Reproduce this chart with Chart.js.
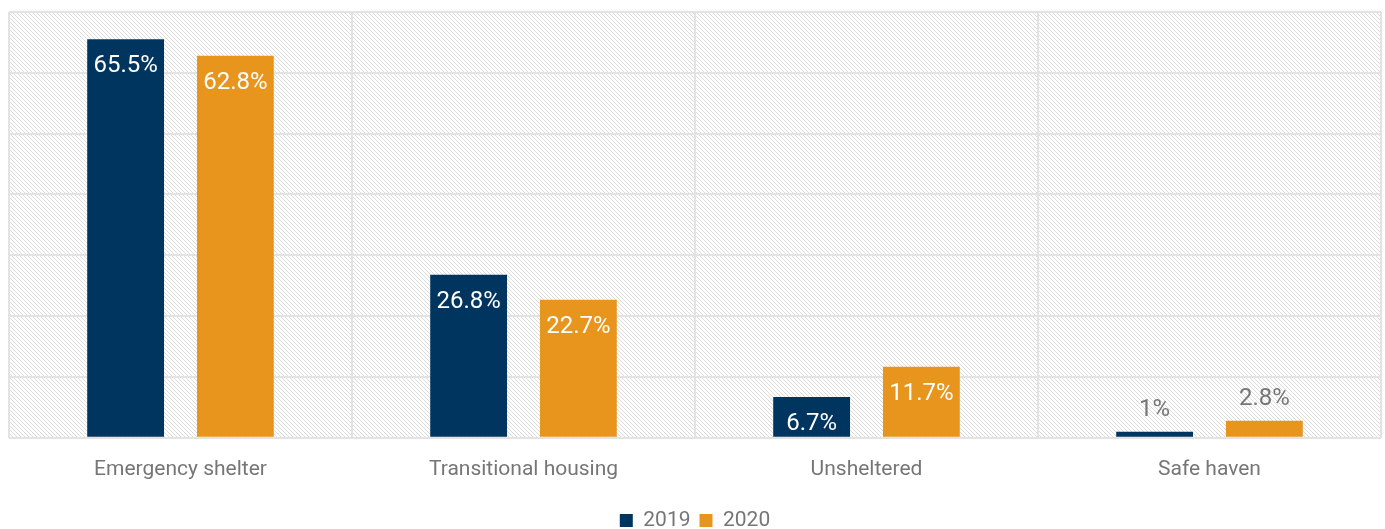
<!DOCTYPE html>
<html>
<head>
<meta charset="utf-8">
<script src="https://cdn.jsdelivr.net/npm/chart.js@4.4.0/dist/chart.umd.min.js"></script>
<style>
  html, body { margin: 0; padding: 0; background: #fff; }
  #wrap { width: 1385px; height: 529px; }
</style>
</head>
<body>
<div id="wrap"><canvas id="barChart"></canvas></div>
<script>
// data
var categories = ['Emergency shelter', 'Transitional housing', 'Unsheltered', 'Safe haven'];
var values2019 = [65.5, 26.8, 6.7, 1];
var values2020 = [62.8, 22.7, 11.7, 2.8];
var seriesNames = ['2019', '2020'];

var navy = '#00355F';
var orange = '#E8951E';
var grey = '#767676';
var fontFamily = 'Roboto, "Liberation Sans", sans-serif';

// hatched background behind the plot area
function makeHatch() {
    var c = document.createElement('canvas');
    c.width = 4; c.height = 4;
    var g = c.getContext('2d');
    g.fillStyle = '#ffffff';
    g.fillRect(0, 0, 4, 4);
    g.fillStyle = '#dcdcdc';
    for (var i = 0; i < 4; i++) g.fillRect(i, i, 1, 1);
    return c;
}

var hatchPlugin = {
    id: 'hatch',
    beforeDraw: function (chart) {
        var a = chart.chartArea;
        var ctx = chart.ctx;
        ctx.save();
        ctx.fillStyle = ctx.createPattern(makeHatch(), 'repeat');
        ctx.fillRect(a.left, a.top, a.right - a.left, a.bottom - a.top);
        ctx.restore();
    }
};

// value labels: inside top of bar, or above when bar is short
var labelPlugin = {
    id: 'valueLabels',
    afterDatasetsDraw: function (chart) {
        var ctx = chart.ctx;
        ctx.save();
        ctx.font = '24px ' + fontFamily;
        ctx.textAlign = 'center';
        ctx.textBaseline = 'middle';
        chart.data.datasets.forEach(function (ds, di) {
            chart.getDatasetMeta(di).data.forEach(function (bar, i) {
                var v = ds.data[i];
                var txt = v + '%';
                if (v >= 5) {
                    ctx.fillStyle = '#ffffff';
                    ctx.fillText(txt, bar.x, bar.y + 27);
                } else {
                    ctx.fillStyle = grey;
                    ctx.fillText(txt, bar.x, bar.y - 22);
                }
            });
        });
        ctx.restore();
    }
};

var barChart = new Chart(document.getElementById('barChart').getContext('2d'), {
    type: 'bar',
    data: {
        labels: categories,
        datasets: [{
            label: seriesNames[0],
            data: values2019,
            backgroundColor: navy,
            barPercentage: 0.7,
            categoryPercentage: 0.64
        }, {
            label: seriesNames[1],
            data: values2020,
            backgroundColor: orange,
            barPercentage: 0.7,
            categoryPercentage: 0.64
        }]
    },
    options: {
        responsive: true,
        maintainAspectRatio: false,
        animation: false,
        layout: { padding: { left: 9, right: 4, top: 12, bottom: -12 } },
        scales: {
            x: {
                grid: { color: '#e3e3e3', lineWidth: 2, drawTicks: false },
                border: { display: false },
                ticks: { color: grey, padding: 19, font: { family: fontFamily, size: 21 } }
            },
            y: {
                min: 0,
                max: 70,
                ticks: { stepSize: 10, display: false },
                grid: { color: '#e3e3e3', lineWidth: 2, drawTicks: false },
                border: { display: false }
            }
        },
        plugins: {
            legend: {
                position: 'bottom',
                labels: {
                    color: grey,
                    boxWidth: 13,
                    boxHeight: 13,
                    padding: 9,
                    font: { family: fontFamily, size: 21 }
                }
            },
            tooltip: { enabled: false }
        }
    },
    plugins: [hatchPlugin, labelPlugin]
});
</script>
</body>
</html>
